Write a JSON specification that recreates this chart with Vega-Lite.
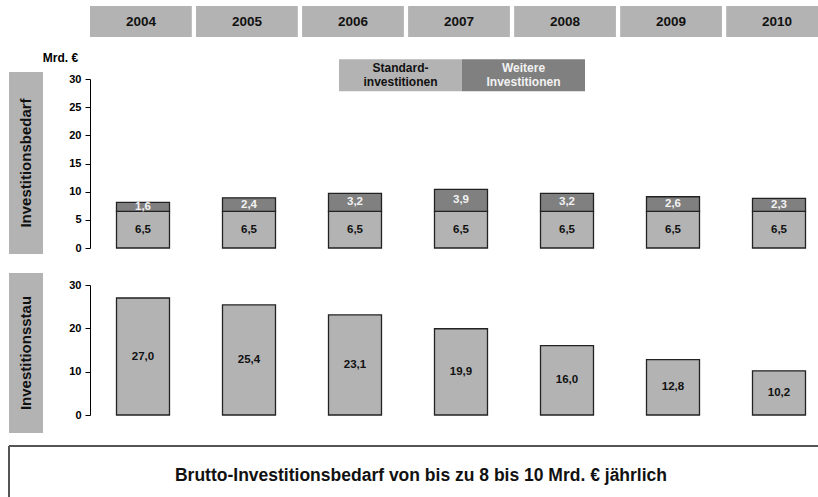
{
  "$schema": "https://vega.github.io/schema/vega-lite/v6.json",
  "background": "white",
  "padding": {"left": 8, "top": 6, "right": 0, "bottom": 0},
  "config": {
    "font": "Liberation Sans",
    "view": {"stroke": null},
    "locale": {"number": {"decimal": ",", "thousands": ".", "grouping": [3], "currency": ["", " €"]}},
    "axis": {"labelFontSize": 11, "labelFontWeight": "bold", "labelColor": "black", "domainColor": "black", "tickColor": "black", "tickSize": 5, "grid": false, "labelPadding": 4}
  },
  "datasets": {
    "bedarf": [
      {"jahr": "2004", "typ": "Standardinvestitionen", "wert": 6.5},
      {"jahr": "2004", "typ": "Weitere Investitionen", "wert": 1.6},
      {"jahr": "2005", "typ": "Standardinvestitionen", "wert": 6.5},
      {"jahr": "2005", "typ": "Weitere Investitionen", "wert": 2.4},
      {"jahr": "2006", "typ": "Standardinvestitionen", "wert": 6.5},
      {"jahr": "2006", "typ": "Weitere Investitionen", "wert": 3.2},
      {"jahr": "2007", "typ": "Standardinvestitionen", "wert": 6.5},
      {"jahr": "2007", "typ": "Weitere Investitionen", "wert": 3.9},
      {"jahr": "2008", "typ": "Standardinvestitionen", "wert": 6.5},
      {"jahr": "2008", "typ": "Weitere Investitionen", "wert": 3.2},
      {"jahr": "2009", "typ": "Standardinvestitionen", "wert": 6.5},
      {"jahr": "2009", "typ": "Weitere Investitionen", "wert": 2.6},
      {"jahr": "2010", "typ": "Standardinvestitionen", "wert": 6.5},
      {"jahr": "2010", "typ": "Weitere Investitionen", "wert": 2.3}
    ],
    "stau": [
      {"jahr": "2004", "wert": 27.0},
      {"jahr": "2005", "wert": 25.4},
      {"jahr": "2006", "wert": 23.1},
      {"jahr": "2007", "wert": 19.9},
      {"jahr": "2008", "wert": 16.0},
      {"jahr": "2009", "wert": 12.8},
      {"jahr": "2010", "wert": 10.2}
    ]
  },
  "bounds": "full",
  "spacing": 12,
  "vconcat": [
    {
      "columns": 2,
      "bounds": "flush",
      "align": "each",
      "spacing": {"row": 12, "column": 47},
      "concat": [
        {"width": 34, "height": 54, "data": {"values": []}, "mark": "text", "encoding": {}},
        {
          "width": 729, "height": 31,
          "data": {"name": "stau"},
          "encoding": {
            "x": {"field": "jahr", "type": "ordinal", "axis": null, "scale": {"range": [0, 738], "paddingInner": 0.04, "paddingOuter": 0}}
          },
          "layer": [
            {"mark": {"type": "bar", "fill": "#b3b3b3", "clip": true}},
            {"mark": {"type": "text", "fontSize": 13.5, "fontWeight": "bold", "color": "#111", "clip": true}, "encoding": {"text": {"field": "jahr"}}}
          ]
        },
        {
          "width": 34, "height": 182,
          "view": {"fill": "#b3b3b3", "stroke": null},
          "data": {"values": [{"label": "Investitionsbedarf"}]},
          "mark": {"type": "text", "angle": 270, "fontSize": 15, "fontWeight": "bold", "color": "#111", "align": "center", "baseline": "middle"},
          "encoding": {"text": {"field": "label"}}
        },
        {
          "width": 729, "height": 189,
          "data": {"name": "bedarf"},
          "transform": [
            {"stack": "wert", "groupby": ["jahr"], "sort": [{"field": "typ", "order": "ascending"}], "as": ["y0", "y1"]},
            {"calculate": "(datum.y0 + datum.y1) / 2", "as": "mitte"}
          ],
          "encoding": {
            "x": {"field": "jahr", "type": "ordinal", "axis": null, "scale": {"range": [0, 742], "paddingInner": 0.5, "paddingOuter": 0.25}}
          },
          "layer": [
            {
              "mark": {"type": "bar", "stroke": "#222", "strokeWidth": 1.3},
              "encoding": {
                "y": {"field": "y0", "type": "quantitative", "scale": {"domain": [0, 30], "range": [176, 7], "nice": false},
                  "axis": {"values": [0, 5, 10, 15, 20, 25, 30], "labelOverlap": false, "title": "Mrd. €", "titleAngle": 0, "titleX": -30, "titleY": -15, "titleAlign": "center", "titleBaseline": "middle", "titleFontSize": 12, "titleFontWeight": "bold", "titleColor": "black"}},
                "y2": {"field": "y1"},
                "color": {
                  "field": "typ", "type": "nominal",
                  "scale": {"domain": ["Standardinvestitionen", "Weitere Investitionen"], "range": ["#b3b3b3", "#808080"]},
                  "legend": {
                    "orient": "none", "legendX": 330, "legendY": 0.5, "direction": "horizontal", "title": null,
                    "symbolType": "M-1,-0.146H1V0.374H-1Z", "symbolSize": 15129, "symbolStrokeWidth": 0, "symbolOpacity": 1,
                    "labelAlign": "center", "labelBaseline": "middle", "labelOffset": -61.5, "labelFontSize": 12, "labelFontWeight": "bold",
                    "labelLimit": 300, "labelLineHeight": 14, "columnPadding": 0, "padding": 0,
                    "labelExpr": "datum.value === 'Standardinvestitionen' ? ['Standard-', 'investitionen'] : ['Weitere', 'Investitionen']",
                    "labelColor": {"expr": "datum.value === 'Weitere Investitionen' ? '#f2f2f2' : '#111'"}
                  }
                }
              }
            },
            {
              "mark": {"type": "text", "fontSize": 11.5, "fontWeight": "bold"},
              "encoding": {
                "y": {"field": "mitte", "type": "quantitative",
                  "axis": {"values": [0, 5, 10, 15, 20, 25, 30], "labelOverlap": false, "title": "Mrd. €", "titleAngle": 0, "titleX": -30, "titleY": -15, "titleAlign": "center", "titleBaseline": "middle", "titleFontSize": 12, "titleFontWeight": "bold", "titleColor": "black"}},
                "text": {"field": "wert", "type": "quantitative", "format": ".1f"},
                "color": {"condition": {"test": "datum.typ === 'Weitere Investitionen'", "value": "#f2f2f2"}, "value": "#111"}
              }
            },
            {"mark": {"type": "rule", "color": "black", "strokeWidth": 1},
             "encoding": {"y": {"datum": 0,
               "axis": {"values": [0, 5, 10, 15, 20, 25, 30], "labelOverlap": false, "title": "Mrd. €", "titleAngle": 0, "titleX": -30, "titleY": -15, "titleAlign": "center", "titleBaseline": "middle", "titleFontSize": 12, "titleFontWeight": "bold", "titleColor": "black"}}}}
          ]
        },
        {
          "width": 34, "height": 160,
          "view": {"fill": "#b3b3b3", "stroke": null},
          "data": {"values": [{"label": "Investitionsstau"}]},
          "mark": {"type": "text", "angle": 270, "fontSize": 15, "fontWeight": "bold", "color": "#111", "align": "center", "baseline": "middle"},
          "encoding": {"text": {"field": "label"}}
        },
        {
          "width": 729, "height": 160,
          "data": {"name": "stau"},
          "transform": [{"calculate": "datum.wert / 2", "as": "mitte"}],
          "encoding": {
            "x": {"field": "jahr", "type": "ordinal", "axis": null, "scale": {"range": [0, 742], "paddingInner": 0.5, "paddingOuter": 0.25}}
          },
          "layer": [
            {
              "mark": {"type": "bar", "fill": "#b3b3b3", "stroke": "#222", "strokeWidth": 1.3},
              "encoding": {
                "y": {"field": "wert", "type": "quantitative", "scale": {"domain": [0, 30], "range": [142, 12], "nice": false}, "axis": {"values": [0, 10, 20, 30], "title": null}}
              }
            },
            {
              "mark": {"type": "text", "fontSize": 11.5, "fontWeight": "bold", "color": "#111"},
              "encoding": {
                "y": {"field": "mitte", "type": "quantitative", "axis": {"values": [0, 10, 20, 30], "title": null}},
                "text": {"field": "wert", "type": "quantitative", "format": ".1f"}
              }
            },
            {"mark": {"type": "rule", "color": "black", "strokeWidth": 1}, "encoding": {"y": {"datum": 0, "axis": {"values": [0, 10, 20, 30], "title": null}}}}
          ]
        }
      ]
    },
    {
      "width": 810, "height": 52,
      "view": {"stroke": "#555", "strokeWidth": 2, "strokeDash": [810, 862, 52, 0]},
      "data": {"values": [{"text": "Brutto-Investitionsbedarf von bis zu 8 bis 10 Mrd. € jährlich"}]},
      "mark": {"type": "text", "fontSize": 17.5, "fontWeight": "bold", "color": "#111", "dx": 7, "dy": 4},
      "encoding": {"text": {"field": "text"}}
    }
  ]
}
